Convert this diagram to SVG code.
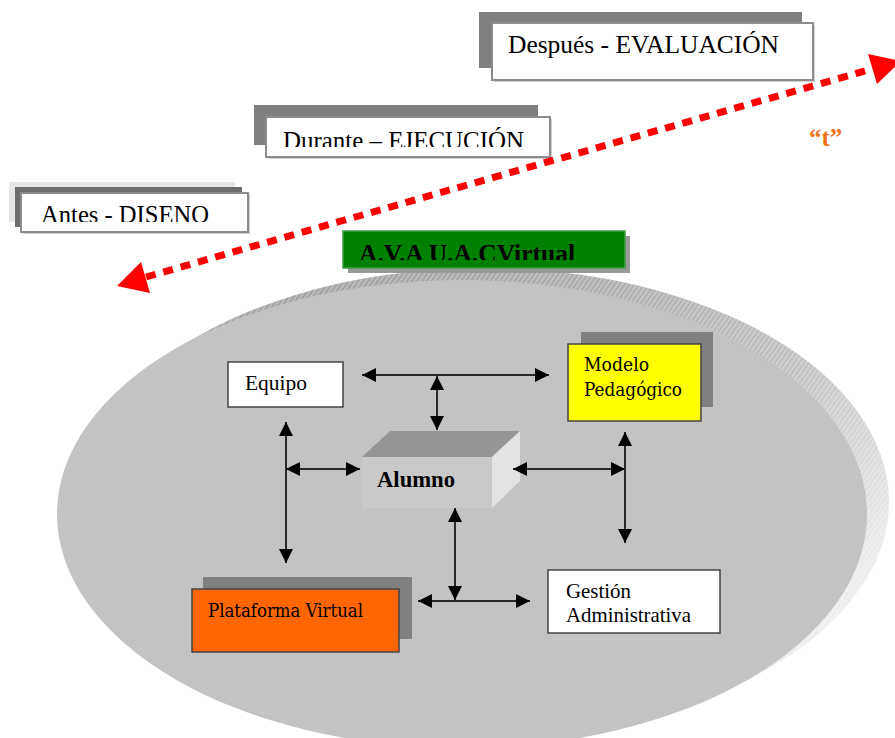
<svg xmlns="http://www.w3.org/2000/svg" width="895" height="738" viewBox="0 0 895 738">
<style>
  .serif{font-family:"Liberation Serif","Times New Roman",serif;fill:#000;}
  .slab{font-family:"DejaVu Serif","Liberation Serif",serif;fill:#000;}
  .phase{fill:#fff;stroke:#8c8c8c;stroke-width:2;}
  .dark{fill:#808080;}
  .conn line{stroke:#2a2a2a;stroke-width:2;marker-start:url(#ah);marker-end:url(#ah);}
  .box{stroke:#444;stroke-width:1.5;}
</style>
<defs>
  <marker id="ah" markerUnits="userSpaceOnUse" markerWidth="15" markerHeight="15" refX="14" refY="7" orient="auto-start-reverse">
    <path d="M0,0 L14,7 L0,14 Z" fill="#000"/>
  </marker>
  <linearGradient id="ringGrad" x1="0" y1="0" x2="1" y2="0.6">
    <stop offset="0.35" stop-color="#a4a4a4"/>
    <stop offset="0.75" stop-color="#c0c0c0"/>
    <stop offset="1" stop-color="#ececec"/>
  </linearGradient>
  <pattern id="hatch" width="4" height="4" patternUnits="userSpaceOnUse" patternTransform="rotate(35)">
    <rect width="1.5" height="4" fill="#ffffff" opacity="0.35"/>
  </pattern>
  <clipPath id="clipDurante"><rect x="266" y="117" width="284" height="30"/></clipPath>
  <clipPath id="clipAntes"><rect x="21" y="193" width="227" height="29"/></clipPath>
  <clipPath id="clipAva"><rect x="343" y="231" width="282" height="29"/></clipPath>
</defs>

<rect width="895" height="738" fill="#fff"/>

<g id="despues">
  <rect class="dark" x="479" y="12" width="323" height="56"/>
  <rect x="494" y="25" width="321" height="57" fill="#cfcfcf"/>
  <rect class="phase" x="492" y="23" width="321" height="57"/>
  <text class="serif" x="508" y="53" font-size="25" textLength="271" lengthAdjust="spacingAndGlyphs">Después - EVALUACIÓN</text>
</g>

<g id="durante">
  <rect class="dark" x="254" y="105" width="284" height="40"/>
  <rect x="268" y="119" width="284" height="40" fill="#cfcfcf"/>
  <rect class="phase" x="266" y="117" width="284" height="40"/>
  <text class="serif" x="283" y="149" font-size="25" textLength="241" lengthAdjust="spacingAndGlyphs" clip-path="url(#clipDurante)">Durante – EJECUCIÓN</text>
</g>

<g id="antes">
  <rect x="9" y="182" width="226" height="40" fill="#e6e6e6"/>
  <rect x="15" y="187" width="227" height="40" fill="#6e6e6e"/>
  <rect x="23" y="195" width="227" height="39" fill="#cfcfcf"/>
  <rect class="phase" x="21" y="193" width="227" height="39" stroke="#7a7a7a"/>
  <text class="serif" x="41" y="223" font-size="25" textLength="168" lengthAdjust="spacingAndGlyphs" clip-path="url(#clipAntes)">Antes - DISENO</text>
</g>

<g id="ambiente">
  <ellipse cx="484" cy="502" rx="405" ry="234" fill="url(#ringGrad)"/>
  <ellipse cx="484" cy="502" rx="405" ry="234" fill="url(#hatch)"/>
  <ellipse cx="462" cy="514" rx="405" ry="234" fill="#c3c3c3"/>
</g>

<g id="ava">
  <rect x="348" y="236" width="282" height="37" fill="#9a9a9a"/>
  <rect x="343" y="231" width="282" height="37" fill="#008000" stroke="#3f9f3f" stroke-width="1.5"/>
  <text class="serif" x="359" y="262" font-size="25" font-weight="bold" textLength="216" lengthAdjust="spacingAndGlyphs" clip-path="url(#clipAva)">A.V.A U.A.CVirtual</text>
</g>

<g id="tiempo">
  <text x="809" y="146" font-family="Liberation Serif, serif" font-size="25" font-weight="bold" fill="#ee7422">“t”</text>
</g>

<g id="equipo">
  <rect class="box" x="228" y="362" width="115" height="45" fill="#fff"/>
  <text class="serif" x="245" y="390" font-size="21" textLength="62" lengthAdjust="spacingAndGlyphs">Equipo</text>
</g>

<g id="modelo">
  <rect class="dark" x="581" y="332" width="132" height="75"/>
  <rect class="box" x="568" y="344" width="133" height="77" fill="#ffff00"/>
  <text class="slab" x="584" y="371" font-size="18" textLength="65" lengthAdjust="spacingAndGlyphs">Modelo</text>
  <text class="slab" x="584" y="396" font-size="18" textLength="98" lengthAdjust="spacingAndGlyphs">Pedagógico</text>
</g>

<g id="alumno">
  <polygon points="362,457 492,457 520,431 390,431" fill="#969696"/>
  <polygon points="492,457 520,431 520,481 492,508" fill="#e3e3e3"/>
  <rect x="362" y="457" width="130" height="51" fill="#c9c9c9"/>
  <text class="serif" x="377" y="487" font-size="23" font-weight="bold" textLength="78" lengthAdjust="spacingAndGlyphs">Alumno</text>
</g>

<g id="plataforma">
  <rect class="dark" x="203" y="577" width="209" height="62"/>
  <rect class="box" x="192" y="589" width="207" height="63" fill="#ff6600"/>
  <text class="slab" x="208" y="617" font-size="18" textLength="155" lengthAdjust="spacingAndGlyphs">Plataforma Virtual</text>
</g>

<g id="gestion">
  <rect class="box" x="548" y="570" width="172" height="63" fill="#fff"/>
  <text class="serif" x="566" y="598" font-size="21" textLength="65" lengthAdjust="spacingAndGlyphs">Gestión</text>
  <text class="serif" x="566" y="622" font-size="21" textLength="125" lengthAdjust="spacingAndGlyphs">Administrativa</text>
</g>

<g id="connectors">
  <g class="conn">
    <line x1="362" y1="375" x2="549" y2="375"/>
    <line x1="437" y1="376" x2="437" y2="430"/>
    <line x1="286" y1="422" x2="286" y2="563"/>
    <line x1="286" y1="469" x2="360" y2="469"/>
    <line x1="513" y1="469" x2="625" y2="469"/>
    <line x1="625" y1="432" x2="625" y2="543"/>
    <line x1="455" y1="508" x2="455" y2="600"/>
    <line x1="418" y1="601" x2="530" y2="601"/>
  </g>
  <g id="timeline">
    <line x1="146" y1="277" x2="872" y2="69" stroke="#ff0000" stroke-width="7" stroke-dasharray="10 8"/>
    <polygon points="117,286 141,262 150,293" fill="#ff0000"/>
    <polygon points="901,61 868,54 877,84" fill="#ff0000"/>
  </g>
</g>
</svg>
